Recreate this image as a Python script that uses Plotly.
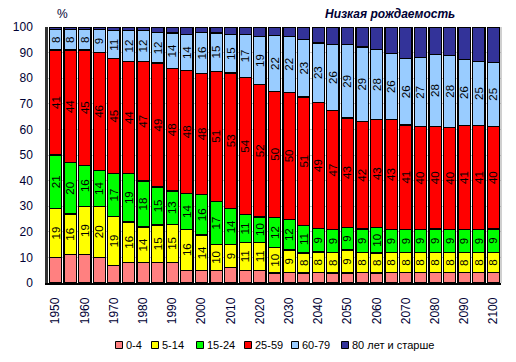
import plotly.graph_objects as go

years = list(range(1950, 2101, 5))

age_0_4 = [10, 11, 11, 10, 7, 8, 8, 8, 8, 5,
           5, 5, 6, 5, 5, 4, 4, 4, 4, 4,
           4, 4, 4, 4, 4, 4, 4, 4, 4, 4, 4]
age_5_14 = [19, 16, 19, 20, 19, 16, 14, 15, 15, 16,
            14, 10, 9, 11, 11, 10, 9, 8, 8, 8,
            9, 8, 8, 8, 8, 8, 8, 8, 8, 8, 8]
age_15_24 = [21, 20, 16, 14, 17, 19, 18, 15, 13, 14,
             16, 17, 14, 11, 10, 12, 12, 11, 9, 9,
             9, 9, 10, 9, 9, 9, 9, 9, 9, 9, 9]
age_25_59 = [41, 44, 45, 46, 45, 44, 47, 49, 48, 48,
             48, 51, 53, 54, 52, 50, 50, 51, 49, 47,
             43, 42, 43, 43, 41, 40, 40, 40, 41, 41, 40]
age_60_79 = [8, 8, 8, 9, 11, 12, 12, 12, 14, 14,
             16, 15, 15, 17, 19, 22, 22, 23, 23, 26,
             29, 29, 28, 26, 26, 27, 28, 28, 26, 25, 25]
age_80p = [1, 1, 1, 1, 1.5, 1.5, 1.5, 2.3, 2.3, 2.9,
           2.3, 2.3, 2.9, 2.9, 3.7, 3.5, 3.7, 4.9, 6.2, 6.9,
           6.9, 7.8, 8.9, 10.4, 12.4, 12.0, 10.8, 11.2, 12.8, 13.7, 13.7]

series_names = ["0-4", "5-14", "15-24", "25-59", "60-79", "80 лет и старше"]
series_values = [age_0_4, age_5_14, age_15_24, age_25_59, age_60_79, age_80p]
series_colors = ["#FF8080", "#FFFF00", "#00FF00", "#FF0000", "#99CCFF", "#333399"]
show_labels = [False, True, True, True, True, False]

tick_years = list(range(1950, 2101, 10))

W, H = 516, 362
ML, MR, MT, MB = 48, 15, 27, 79
PW, PH = W - ML - MR, H - MT - MB


def px(xp):
    return (xp - ML) / PW


def py(yp):
    return (H - MB - yp) / PH


fig = go.Figure()
for name, vals, col, lab in zip(series_names, series_values, series_colors, show_labels):
    fig.add_trace(go.Bar(
        x=years, y=vals, name=name,
        marker=dict(color=col, line=dict(color="black", width=1.3)),
        text=[str(v) for v in vals] if lab else None,
        textposition="inside" if lab else "none",
        insidetextanchor="middle",
        textangle=-90,
        textfont=dict(family="Liberation Sans, Arial", size=11.5, color="black"),
        hoverinfo="x+y+name",
        showlegend=False,
    ))

annotations = [
    dict(text="%", x=px(62), y=py(14), xref="paper", yref="paper", showarrow=False,
         xanchor="center", yanchor="middle", font=dict(size=12, color="#000033")),
    dict(text="<b><i>Низкая рождаемость</i></b>", x=px(390), y=py(14), xref="paper", yref="paper",
         showarrow=False, xanchor="center", yanchor="middle", font=dict(size=12, color="#000033")),
]
shapes = [
    dict(type="line", xref="paper", yref="paper", x0=1, x1=1, y0=0, y1=1,
         line=dict(color="#A0A0A0", width=1)),
]

# manual legend (one row, as in the reference)
legend_x = [119, 155, 200, 248, 295, 345]
legend_y = 345
for name, col, lx in zip(series_names, series_colors, legend_x):
    shapes.append(dict(type="rect", xref="paper", yref="paper",
                       x0=px(lx - 3.5), x1=px(lx + 3.5), y0=py(legend_y + 3.5), y1=py(legend_y - 3.5),
                       fillcolor=col, line=dict(color="black", width=1)))
    annotations.append(dict(text=name, x=px(lx + 5), y=py(legend_y), xref="paper", yref="paper",
                            showarrow=False, xanchor="left", yanchor="middle",
                            font=dict(size=11, color="black")))

fig.update_layout(
    barmode="stack",
    barnorm="percent",
    bargap=0.16,
    width=W, height=H,
    margin=dict(l=ML, r=MR, t=MT, b=MB, autoexpand=False),
    paper_bgcolor="white",
    plot_bgcolor="white",
    font=dict(family="Liberation Sans, Arial", size=12, color="black"),
    uniformtext=dict(minsize=11, mode="show"),
    showlegend=False,
    xaxis=dict(
        range=[1947.4, 2102.6],
        tickmode="array", tickvals=tick_years,
        ticktext=[str(t) for t in tick_years],
        tickangle=-90, ticks="", showgrid=False,
        showline=True, linecolor="black", linewidth=1.5,
        tickfont=dict(size=12, color="#000033"),
        ticklabelstandoff=8, automargin=False,
    ),
    yaxis=dict(
        range=[0, 100], dtick=10,
        showgrid=True, gridcolor="#C8C8C8", gridwidth=1,
        showline=True, linecolor="#333333", linewidth=2.5,
        ticks="", tickfont=dict(size=12, color="#000033"),
        ticklabelstandoff=10, automargin=False,
        zeroline=False,
    ),
    annotations=annotations,
    shapes=shapes,
)

fig.write_html("out.html",
               config={"displayModeBar": False},
               post_script="document.body.style.margin='0';document.body.style.overflow='hidden';")
